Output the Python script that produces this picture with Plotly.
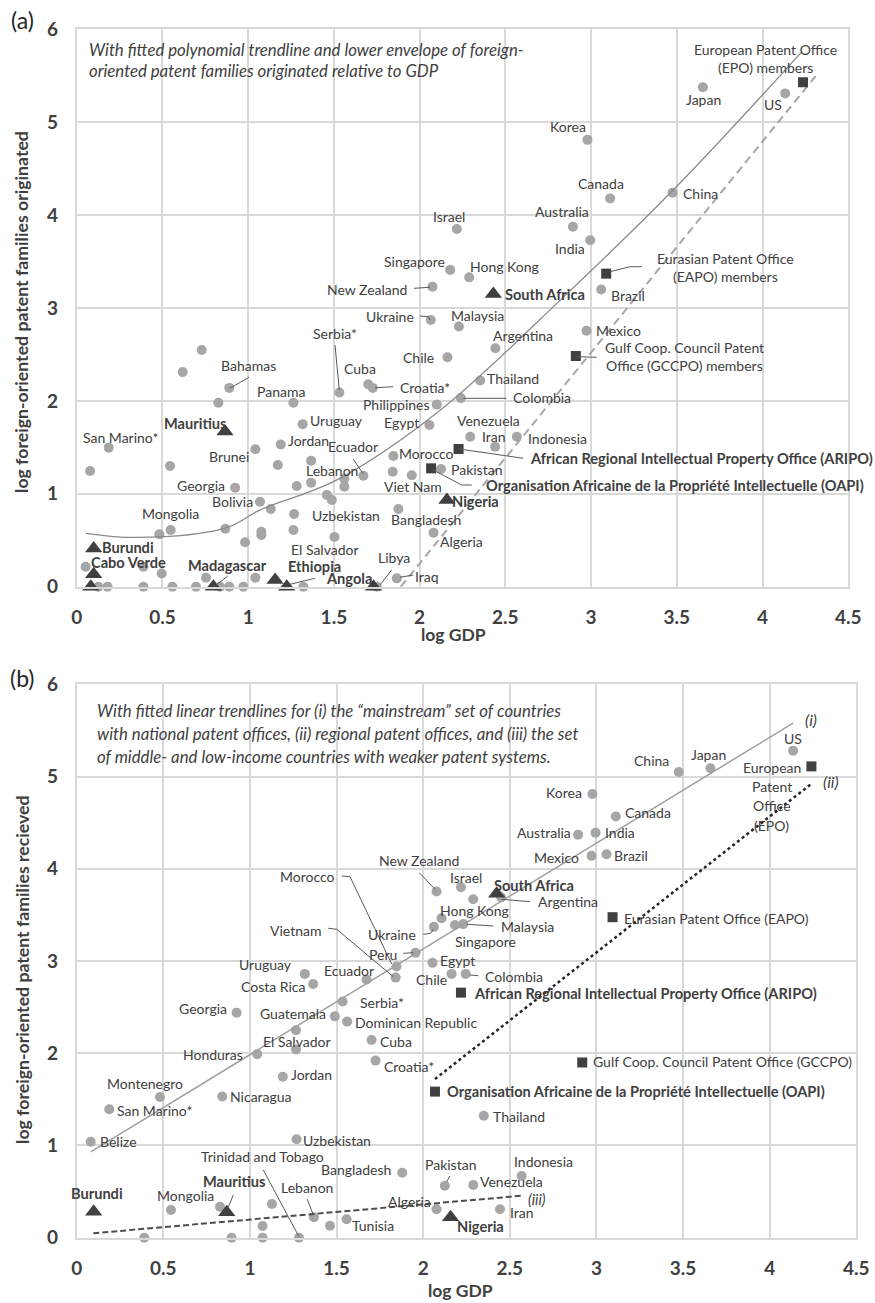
import plotly.graph_objects as go

W, H = 875, 1303
FONT = "Lato"
TXT = "#404040"
DOT = "#a6a6a6"
DARK = "#404040"
GRID = "#d9d9d9"

# ---------------- DATA : panel (a) ----------------
a_circ_names = ["Japan", "US", "Korea", "Canada", "China", "Australia", "India", "Israel",
                "Singapore", "Hong Kong", "New Zealand", "Brazil", "Ukraine", "Malaysia", "Mexico",
                "Argentina", "Chile", "Thailand", "Colombia", "Philippines", "Cuba", "Croatia*",
                "Serbia*", "Panama", "", "", "Bahamas", "", "Uruguay", "Egypt", "Venezuela",
                "Indonesia", "Iran", "Morocco", "Pakistan", "", "Viet Nam", "San Marino*", "", "",
                "Brunei", "Jordan", "", "Ecuador", "Lebanon", "", "", "", "", "Georgia", "Bolivia",
                "", "", "", "Uzbekistan", "Bangladesh", "Mongolia", "", "", "", "", "", "",
                "El Salvador", "Algeria", "", "", "", "", "", "Iraq", "Libya",
                "", "", "", "", "", "", "", "", ""]
a_circ_x = [3.652, 4.132, 2.979, 3.111, 3.475, 2.894, 2.995, 2.217,
            2.178, 2.289, 2.075, 3.059, 2.065, 2.229, 2.973,
            2.442, 2.162, 2.353, 2.24, 2.10, 1.70, 1.727,
            1.532, 1.264, 0.729, 0.618, 0.89, 0.826, 1.318, 2.057, 2.295,
            2.567, 2.44, 1.847, 2.125, 1.843, 1.954, 0.187, 0.078, 0.544,
            1.042, 1.19, 1.173, 1.367, 1.672, 1.561, 1.561, 1.367, 1.283, 0.924, 1.069,
            1.132, 1.459, 1.488, 1.268, 1.876, 0.548, 0.482, 0.867, 0.982, 1.077, 1.077, 1.264,
            1.503, 2.081, 0.052, 0.389, 0.496, 0.754, 1.042, 1.867, 1.75,
            0.126, 0.18, 0.389, 0.558, 0.696, 0.836, 0.89, 0.972, 1.322]
a_circ_y = [5.376, 5.31, 4.81, 4.18, 4.24, 3.875, 3.73, 3.85,
            3.41, 3.33, 3.23, 3.20, 2.87, 2.80, 2.756,
            2.566, 2.47, 2.22, 2.03, 1.96, 2.18, 2.14,
            2.09, 1.98, 2.548, 2.31, 2.14, 1.98, 1.75, 1.74, 1.615,
            1.615, 1.507, 1.407, 1.267, 1.238, 1.20, 1.497, 1.245, 1.30,
            1.479, 1.53, 1.31, 1.356, 1.195, 1.16, 1.076, 1.12, 1.084, 1.066, 0.915,
            0.836, 0.987, 0.933, 0.783, 0.836, 0.61, 0.564, 0.624, 0.478, 0.592, 0.556, 0.61,
            0.535, 0.58, 0.215, 0.215, 0.143, 0.097, 0.097, 0.09, 0.0,
            0, 0, 0, 0, 0, 0, 0, 0, 0]

a_tri_names = ["Burundi", "Cabo Verde", "", "Mauritius", "Madagascar", "", "Ethiopia",
               "Angola", "Nigeria", "South Africa"]
a_tri_x = [0.099, 0.099, 0.082, 0.865, 0.797, 1.157, 1.225, 1.731, 2.159, 2.43]
a_tri_y = [0.41, 0.134, 0.0, 1.67, 0.0, 0.072, 0.0, 0.0, 0.933, 3.15]

a_sq_names = ["EPO", "EAPO", "GCCPO", "ARIPO", "OAPI"]
a_sq_x = [4.236, 3.088, 2.911, 2.227, 2.067]
a_sq_y = [5.43, 3.37, 2.483, 1.482, 1.274]

# polynomial trendline
a_trend_x = [0.054, 0.35, 0.866, 1.07, 1.517, 2.12, 2.84, 3.5, 4.23]
a_trend_y = [0.575, 0.53, 0.63, 0.826, 1.15, 1.9, 3.12, 4.31, 5.76]
# lower envelope
a_env_x = [1.89, 4.32]
a_env_y = [0.0, 5.52]

# ---------------- DATA : panel (b) ----------------
b_circ_names = ["US", "Japan", "China", "Korea", "Canada", "Australia", "India", "Mexico", "Brazil",
                "Israel", "Argentina", "Hong Kong", "New Zealand", "Malaysia", "Singapore", "",
                "Ukraine", "Peru", "Egypt", "Morocco", "Vietnam", "Chile", "Colombia", "Ecuador",
                "Uruguay", "Costa Rica", "Serbia*", "Guatemala", "Dominican Republic", "",
                "El Salvador", "Cuba", "Croatia*", "Jordan", "Georgia", "Honduras", "Montenegro",
                "Nicaragua", "San Marino*", "Belize", "Uzbekistan", "Thailand", "Bangladesh",
                "Pakistan", "Venezuela", "Indonesia", "Iran", "Algeria", "Mongolia", "", "", "",
                "Lebanon", "", "Tunisia", "", "", "", "Trinidad and Tobago"]
b_circ_x = [4.135, 3.658, 3.475, 2.977, 3.112, 2.894, 2.995, 2.972, 3.058,
            2.218, 2.45, 2.289, 2.077, 2.231, 2.183, 2.106,
            2.062, 1.956, 2.054, 1.846, 1.841, 2.164, 2.245, 1.673,
            1.317, 1.365, 1.535, 1.49, 1.561, 1.266,
            1.266, 1.702, 1.725, 1.19, 0.923, 1.042, 0.481,
            0.84, 0.188, 0.081, 1.269, 2.35, 1.879,
            2.125, 2.289, 2.568, 2.443, 2.077, 0.544, 0.827, 1.127, 1.073,
            1.369, 1.462, 1.558, 0.39, 0.894, 1.073, 1.283]
b_circ_y = [5.28, 5.09, 5.05, 4.81, 4.566, 4.37, 4.39, 4.14, 4.158,
            3.80, 3.69, 3.67, 3.753, 3.40, 3.39, 3.464,
            3.37, 3.09, 2.98, 2.94, 2.82, 2.86, 2.86, 2.80,
            2.86, 2.75, 2.56, 2.40, 2.343, 2.25,
            2.04, 2.144, 1.92, 1.745, 2.44, 1.99, 1.526,
            1.53, 1.393, 1.04, 1.067, 1.323, 0.705,
            0.564, 0.572, 0.669, 0.308, 0.308, 0.30, 0.336, 0.366, 0.127,
            0.221, 0.13, 0.2, 0.0, 0.0, 0.0, 0.0]

b_tri_names = ["Burundi", "Mauritius", "Nigeria", "South Africa"]
b_tri_x = [0.098, 0.866, 2.158, 2.424]
b_tri_y = [0.282, 0.275, 0.221, 3.73]

b_sq_names = ["EPO", "EAPO", "ARIPO", "GCCPO", "OAPI"]
b_sq_x = [4.241, 3.093, 2.218, 2.918, 2.068]
b_sq_y = [5.11, 3.475, 2.657, 1.90, 1.584]

# fitted linear trendlines (end points)
b_line_i_x = [0.081, 4.135]
b_line_i_y = [0.93, 5.58]
b_line_ii_x = [2.068, 4.24]
b_line_ii_y = [1.72, 4.92]
b_line_iii_x = [0.096, 2.568]
b_line_iii_y = [0.048, 0.455]

x_ticks = [0, 0.5, 1, 1.5, 2, 2.5, 3, 3.5, 4, 4.5]
x_tick_labels = ["0", "0.5", "1", "1.5", "2", "2.5", "3", "3.5", "4", "4.5"]
y_ticks = [0, 1, 2, 3, 4, 5, 6]
y_tick_labels = ["0", "1", "2", "3", "4", "5", "6"]

# ---------------- FIGURE ----------------
fig = go.Figure()


def markers(xs, ys, names, symbol, color, size, xa, ya):
    fig.add_trace(go.Scatter(x=xs, y=ys, text=names, mode="markers",
                             marker=dict(symbol=symbol, color=color, size=size, line=dict(width=0)),
                             xaxis=xa, yaxis=ya, cliponaxis=False, showlegend=False,
                             hoverinfo="text+x+y"))


def line(xs, ys, color, width, dash, xa, ya, shape="linear"):
    fig.add_trace(go.Scatter(x=xs, y=ys, mode="lines",
                             line=dict(color=color, width=width, dash=dash, shape=shape),
                             xaxis=xa, yaxis=ya, showlegend=False, hoverinfo="skip"))


# panel (a)
markers(a_circ_x, a_circ_y, a_circ_names, "circle", DOT, 10, "x", "y")
line(a_trend_x, a_trend_y, "#8a8a8a", 1.3, "solid", "x", "y", shape="spline")
line(a_env_x, a_env_y, "#a6a6a6", 2, "8px,5px", "x", "y")
markers(a_tri_x, a_tri_y, a_tri_names, "triangle-up", DARK, 15, "x", "y")
markers(a_sq_x, a_sq_y, a_sq_names, "square", DARK, 10, "x", "y")

# panel (b)
markers(b_circ_x, b_circ_y, b_circ_names, "circle", DOT, 10, "x2", "y2")
line(b_line_i_x, b_line_i_y, "#a0a0a0", 1.5, "solid", "x2", "y2")
line(b_line_ii_x, b_line_ii_y, "#262626", 2.5, "dot", "x2", "y2")
line(b_line_iii_x, b_line_iii_y, "#4d4d4d", 2, "6px,3px", "x2", "y2")
markers(b_tri_x, b_tri_y, b_tri_names, "triangle-up", DARK, 15, "x2", "y2")
markers(b_sq_x, b_sq_y, b_sq_names, "square", DARK, 10, "x2", "y2")

axis_common = dict(showgrid=True, gridcolor=GRID, gridwidth=1.5, showline=True, linecolor=GRID,
                   linewidth=1.5, mirror=True, zeroline=False, ticks="", automargin=False,
                   tickfont=dict(family=FONT, size=19, color=TXT, weight="bold"), fixedrange=True)


def px(x):
    return x / W


def py(y):
    return 1 - y / H


fig.update_layout(
    width=W, height=H, margin=dict(l=0, r=0, t=0, b=0, autoexpand=False),
    paper_bgcolor="white", plot_bgcolor="white",
    xaxis=dict(domain=[px(76.7), px(848.3)], range=[0, 4.5], tickvals=x_ticks,
               ticktext=x_tick_labels, anchor="y", ticklabelstandoff=13, **axis_common),
    yaxis=dict(domain=[py(586.7), py(29.3)], range=[0, 6], tickvals=y_ticks,
               ticktext=y_tick_labels, anchor="x", ticklabelstandoff=13, **axis_common),
    xaxis2=dict(domain=[px(76.7), px(856.3)], range=[0, 4.5], tickvals=x_ticks,
                ticktext=x_tick_labels, anchor="y2", ticklabelstandoff=13, **axis_common),
    yaxis2=dict(domain=[py(1237.7), py(684.3)], range=[0, 6], tickvals=y_ticks,
                ticktext=y_tick_labels, anchor="x2", ticklabelstandoff=13, **axis_common),
)

annotations = []
LBL = 14
LBL_BOLD = 14.6


def txt(text, x, y, anchor="center", size=LBL, color=TXT, bold=False, italic=False, angle=0):
    t = text
    if bold:
        t = "<b>" + t + "</b>"
    if italic:
        t = "<i>" + t + "</i>"
    annotations.append(dict(text=t, x=px(x), y=py(y), xref="paper", yref="paper",
                            xanchor=anchor, yanchor="middle", showarrow=False, textangle=angle,
                            font=dict(family=FONT, size=size, color=color), align="center"))


# panel letters, axis titles
txt("(a)", 22, 20, size=23, color="#262626")
txt("(b)", 22, 678, size=23, color="#262626")
txt("log GDP", 453, 634, size=17.5, bold=True)
txt("log GDP", 461, 1290, size=17.5, bold=True)
txt("log foreign-oriented patent families originated", 22, 312, size=17.7, bold=True, angle=-90)
txt("log foreign-oriented patent families recieved", 22, 970, size=17.7, bold=True, angle=-90)

# notes
NOTE = 16.8
txt("With fitted polynomial trendline and lower envelope of foreign-", 87, 49.3, anchor="left",
    size=NOTE, italic=True)
txt("oriented patent families originated relative to GDP", 87, 70, anchor="left", size=NOTE,
    italic=True)
txt("With fitted linear trendlines for (i) the \u201cmainstream\u201d set of countries", 95, 710,
    anchor="left", size=NOTE, italic=True)
txt("with national patent offices, (ii) regional patent offices, and (iii) the set", 95, 733.3,
    anchor="left", size=NOTE, italic=True)
txt("of middle- and low-income countries with weaker patent systems.", 95, 756.7,
    anchor="left", size=NOTE, italic=True)
txt("(i)", 802.7, 719.3, anchor="left", size=16, italic=True)
txt("(ii)", 821, 781.7, anchor="left", size=16, italic=True)
txt("(iii)", 526, 1199, anchor="left", size=14.5, italic=True)

# point labels panel (a): text, x, y, anchor, bold
a_labels = [
    ("European Patent Office", 765.8, 49.3, "center", False),
    ("(EPO) members", 765.8, 67.7, "center", False),
    ("Japan", 703.5, 99.3, "center", False),
    ("US", 773, 104.3, "center", False),
    ("Korea", 568.3, 126.7, "center", False),
    ("Canada", 601.3, 183.3, "center", False),
    ("China", 700.8, 193.3, "center", False),
    ("Australia", 561.7, 211.7, "center", False),
    ("India", 570.2, 248.7, "center", False),
    ("Israel", 449.3, 216.7, "center", False),
    ("Eurasian Patent Office", 725.8, 258.3, "center", False),
    ("(EAPO) members", 725.8, 277, "center", False),
    ("Brazil", 627.7, 295.3, "center", False),
    ("Hong Kong", 504.7, 266.7, "center", False),
    ("Singapore", 414.8, 261.7, "center", False),
    ("South Africa", 503.3, 294, "left", True),
    ("New Zealand", 367.3, 290, "center", False),
    ("Ukraine", 389.7, 316.7, "center", False),
    ("Malaysia", 477.3, 315.7, "center", False),
    ("Argentina", 522.5, 335, "center", False),
    ("Chile", 418.3, 357.3, "center", False),
    ("Thailand", 513, 378.7, "center", False),
    ("Colombia", 542, 397.7, "center", False),
    ("Philippines", 396.3, 404, "center", False),
    ("Cuba", 359.7, 368.3, "center", False),
    ("Croatia*", 424.7, 387.7, "center", False),
    ("Serbia*", 334.5, 333.3, "center", False),
    ("Panama", 281.3, 391, "center", False),
    ("Bahamas", 248.7, 365.7, "center", False),
    ("Mauritius", 194.8, 423.3, "center", True),
    ("Uruguay", 336.3, 420.7, "center", False),
    ("Egypt", 401.2, 422.3, "center", False),
    ("San Marino*", 120.5, 437.7, "center", False),
    ("Jordan", 308.3, 440, "center", False),
    ("Ecuador", 353.3, 446.7, "center", False),
    ("Brunei", 229.3, 456.7, "center", False),
    ("Lebanon", 332, 470.3, "center", False),
    ("Morocco", 426.8, 453.3, "center", False),
    ("Venezuela", 488.7, 420.7, "center", False),
    ("Iran", 494.2, 436.7, "center", False),
    ("Indonesia", 557.7, 438.3, "center", False),
    ("Mexico", 618.5, 330, "center", False),
    ("Gulf Coop. Council Patent", 684.7, 347.7, "center", False),
    ("Office (GCCPO) members", 684.7, 366, "center", False),
    ("African Regional Intellectual Property Office (ARIPO)", 701.7, 458.3, "center", True),
    ("Pakistan", 476.2, 470, "center", False),
    ("Organisation Africaine de la Propri\u00e9t\u00e9 Intellectuelle (OAPI)", 675, 486, "center", True),
    ("Viet Nam", 413, 486.7, "center", False),
    ("Nigeria", 475.8, 501.7, "center", True),
    ("Georgia", 201.2, 485.7, "center", False),
    ("Bolivia", 232.8, 501.7, "center", False),
    ("Mongolia", 170.8, 513.3, "center", False),
    ("Uzbekistan", 345.5, 515, "center", False),
    ("Bangladesh", 425.8, 519.3, "center", False),
    ("Algeria", 461.3, 541, "center", False),
    ("El Salvador", 324.7, 549.3, "center", False),
    ("Burundi", 127.5, 547.3, "center", True),
    ("Cabo Verde", 128, 562.3, "center", True),
    ("Madagascar", 227.3, 565, "center", True),
    ("Ethiopia", 314.7, 566.7, "center", True),
    ("Angola", 349.3, 578.5, "center", True),
    ("Libya", 393.5, 557.7, "center", False),
    ("Iraq", 427, 576.7, "center", False),
]

b_labels = [
    ("US", 793.3, 738.3, "center", False),
    ("European", 771.7, 767.7, "center", False),
    ("Patent", 771.7, 786.7, "center", False),
    ("Office", 771.7, 805, "center", False),
    ("(EPO)", 771.7, 825, "center", False),
    ("Japan", 708, 754, "center", False),
    ("China", 651.2, 760, "center", False),
    ("Korea", 564.2, 792.7, "center", False),
    ("Canada", 648.3, 812.3, "center", False),
    ("Australia", 543.5, 832.7, "center", False),
    ("India", 620.3, 832.3, "center", False),
    ("Mexico", 556.5, 857.3, "center", False),
    ("Brazil", 631.3, 855.3, "center", False),
    ("New Zealand", 418.7, 860, "center", False),
    ("Israel", 465.8, 877.3, "center", False),
    ("South Africa", 534.2, 885, "center", True),
    ("Argentina", 567.5, 901.7, "center", False),
    ("Hong Kong", 474.2, 910, "center", False),
    ("Malaysia", 527.5, 926.7, "center", False),
    ("Singapore", 485.5, 941.7, "center", False),
    ("Ukraine", 391.7, 934.3, "center", False),
    ("Morocco", 307.5, 876, "center", False),
    ("Vietnam", 295.5, 930, "center", False),
    ("Peru", 382.5, 954.3, "center", False),
    ("Egypt", 457.5, 960, "center", False),
    ("Ecuador", 349, 970, "center", False),
    ("Uruguay", 265, 964, "center", False),
    ("Chile", 431.7, 979.3, "center", False),
    ("Colombia", 513.7, 976.7, "center", False),
    ("Costa Rica", 273.3, 986.7, "center", False),
    ("Eurasian Patent Office (EAPO)", 621.7, 918.3, "left", False),
    ("African Regional Intellectual Property Office (ARIPO)", 471.7, 993.3, "left", True),
    ("Serbia*", 382, 1002, "center", False),
    ("Georgia", 202.5, 1008.3, "center", False),
    ("Guatemala", 292.5, 1013.3, "center", False),
    ("Dominican Republic", 353.3, 1022, "left", False),
    ("El Salvador", 297.2, 1041, "center", False),
    ("Cuba", 396.2, 1041.7, "center", False),
    ("Honduras", 213, 1054, "center", False),
    ("Croatia*", 409.2, 1066.7, "center", False),
    ("Gulf Coop. Council Patent Office (GCCPO)", 591, 1061, "left", False),
    ("Jordan", 311.2, 1074.3, "center", False),
    ("Montenegro", 144.5, 1083.3, "center", False),
    ("Organisation Africaine de la Propri\u00e9t\u00e9 Intellectuelle (OAPI)", 445, 1091.7, "left", True),
    ("Nicaragua", 261.3, 1096.7, "center", False),
    ("San Marino*", 154.2, 1110.7, "center", False),
    ("Thailand", 519.2, 1116, "center", False),
    ("Belize", 118.3, 1141, "center", False),
    ("Uzbekistan", 336.7, 1140.7, "center", False),
    ("Trinidad and Tobago", 262.8, 1156.7, "center", False),
    ("Bangladesh", 355.8, 1169, "center", False),
    ("Pakistan", 450.8, 1164.3, "center", False),
    ("Indonesia", 543.7, 1161.7, "center", False),
    ("Venezuela", 511.8, 1181.5, "center", False),
    ("Mauritius", 234.2, 1181.7, "center", True),
    ("Lebanon", 307, 1187.3, "center", False),
    ("Burundi", 97, 1193.3, "center", True),
    ("Mongolia", 185.3, 1195.7, "center", False),
    ("Algeria", 409.2, 1201.7, "center", False),
    ("Iran", 521.5, 1212, "center", False),
    ("Tunisia", 372.5, 1225.7, "center", False),
    ("Nigeria", 480.5, 1226.7, "center", True),
]

for t, x, y, anc, b in a_labels + b_labels:
    txt(t, x, y, anchor=anc, bold=b, size=LBL_BOLD if b else LBL)

# label connector lines (page pixel positions)
connectors = [
    [(610, 271.7), (630, 266.7), (641.7, 266.7)],
    [(414, 288.3), (430, 287.3)],
    [(420, 316), (428.3, 316.7), (430, 320)],
    [(463.3, 398.3), (506.7, 398.3)],
    [(375, 387.7), (393.3, 386.7)],
    [(335, 345), (339.3, 390)],
    [(230, 388.3), (249, 377.3)],
    [(353.3, 459.3), (363.3, 474)],
    [(576.7, 356.7), (596.7, 357.3)],
    [(459.3, 449), (523.3, 458.3)],
    [(433.3, 470), (461.7, 485), (471.7, 485)],
    [(215, 586), (227.7, 576)],
    [(290, 584.3), (315, 578.3)],
    [(380, 585), (391.7, 570)],
    [(400, 577.3), (413.3, 575)],
    [(419.3, 872.7), (435, 889.3)],
    [(501.7, 899.3), (530, 901.7)],
    [(466.7, 924.3), (493.3, 926)],
    [(423.3, 934.3), (430.7, 933.3), (433.3, 929.3)],
    [(341.7, 876), (350, 876.7), (391.7, 964)],
    [(328.3, 928.3), (336.7, 929.3), (393.3, 976.7)],
    [(403.3, 953.3), (413.3, 952.7)],
    [(470, 975), (478.3, 975.7)],
    [(263.3, 1170), (299, 1236.7)],
    [(446.7, 1181.7), (450, 1176)],
    [(233.3, 1195), (228.3, 1207.3)],
    [(307.3, 1199.3), (312.7, 1213.3)],
]
shapes = []
for pts in connectors:
    path = "M " + " L ".join(f"{px(a):.5f},{py(b):.5f}" for a, b in pts)
    shapes.append(dict(type="path", path=path, xref="paper", yref="paper",
                       line=dict(color="#595959", width=1)))

fig.update_layout(annotations=annotations, shapes=shapes, hovermode="closest")

fig.write_html("out.html", config={"displayModeBar": False},
               post_script="document.body.style.margin='0';"
                           "document.documentElement.style.overflow='hidden';")
